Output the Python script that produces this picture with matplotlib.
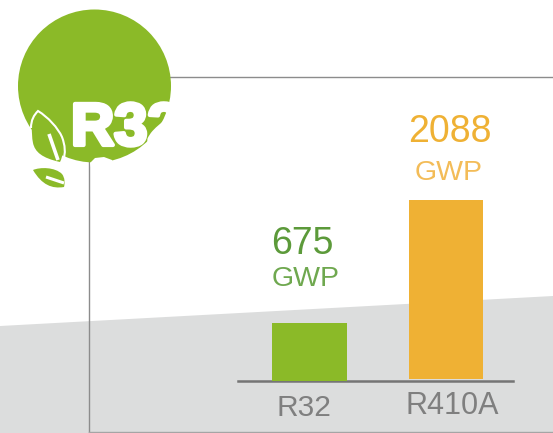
import matplotlib
matplotlib.use("Agg")
import matplotlib.pyplot as plt
from matplotlib.patches import Circle, PathPatch, Polygon
from matplotlib.path import Path
import matplotlib.patheffects as pe

plt.rcParams["font.family"] = ["Liberation Sans", "DejaVu Sans"]

W, H = 553, 433
GREEN = "#8BBA28"
ORANGE = "#EFB134"
GREY_TXT = "#7F7F7F"

categories = ["R32", "R410A"]
gwp_values = [675, 2088]
bar_colors = [GREEN, ORANGE]
value_colors = ["#5C9A3A", ORANGE]
unit_colors = ["#6FA84F", "#F3BC58"]
unit_label = "GWP"
badge_label = "R32"


def curve(points):
    # first point is a moveto, the rest go in cubic bezier triples
    codes = [Path.MOVETO] + [Path.CURVE4] * (len(points) - 1)
    return Path(points, codes)


fig = plt.figure(figsize=(W / 100, H / 100), dpi=100)

# backdrop and badge, in pixel coordinates
bg = fig.add_axes([0, 0, 1, 1])
bg.set_xlim(0, W)
bg.set_ylim(H, 0)
bg.axis("off")

bg.add_patch(Polygon([(0, 326), (W, 296), (W, H), (0, H)], fc="#DCDDDD", ec="none", zorder=1))
bg.plot([89, 89, W], [433, 77, 77], color="#8C8C8C", lw=1.0, zorder=2, solid_joinstyle="miter")
bg.plot([89, W], [431.5, 431.5], color="#A5A5A5", lw=1.0, zorder=2)

bg.add_patch(Circle((94.5, 86), 76.5, fc=GREEN, ec="none", zorder=3))
bg.text(71, 145, badge_label, color="white", fontsize=43, fontweight="bold", va="baseline", ha="left",
        zorder=4, path_effects=[pe.withStroke(linewidth=3.0, foreground="white")])
bg.add_patch(Polygon([(92, 172), (90, 163), (95, 158), (104, 157), (112, 160), (114, 172), (100, 180)],
                     fc="white", ec="none", zorder=4))

# large leaf sitting on the circle edge, white rim on the upper side only
leaf = curve([(38, 111), (31, 120), (31, 132), (33, 143),
              (35, 152), (42, 158), (60, 162),
              (66, 150), (62, 135), (58, 128),
              (52, 122), (45, 115), (38, 111)])
bg.add_patch(PathPatch(leaf, fc=GREEN, ec="none", zorder=5))
rim = curve([(31, 128), (31, 120), (34, 115), (38, 111),
             (48, 117), (58, 128), (62, 137),
             (65, 145), (66, 153), (63, 161)])
bg.add_patch(PathPatch(rim, fc="none", ec="white", lw=1.5, zorder=6))
bg.plot([49, 58], [134, 160], color="white", lw=2.6, zorder=6, solid_capstyle="butt")

# small leaf under the circle
small = curve([(33, 170), (40, 167), (55, 167), (62, 174),
               (65, 178), (65, 183), (64, 187),
               (52, 189), (42, 185), (33, 170)])
bg.add_patch(PathPatch(small, fc=GREEN, ec="none", zorder=5))
bg.plot([46, 64], [177, 183], color="white", lw=2.2, zorder=6, solid_capstyle="butt")

# bar chart, baseline at y=381 px
PX_PER_GWP = 0.0855
ax_top = 100
ax_left, ax_right = 238, 513
x_left = (ax_left - 309.5) / 136.5
x_right = (ax_right - 309.5) / 136.5
ax = fig.add_axes([ax_left / W, (H - 381) / H, (ax_right - ax_left) / W, (381 - ax_top) / H])
ax.patch.set_alpha(0)
ax.set_xlim(x_left, x_right)
ax.set_ylim(0, (381 - ax_top) / PX_PER_GWP)
lift = [0, 2 / PX_PER_GWP]
ax.bar(range(len(categories)), gwp_values, width=0.546, bottom=lift, color=bar_colors, zorder=3)

for side in ["top", "left", "right"]:
    ax.spines[side].set_visible(False)
ax.spines["bottom"].set_color("#757575")
ax.spines["bottom"].set_linewidth(1.8)
ax.spines["bottom"].set_zorder(2)
ax.set_yticks([])
ax.set_xticks([])

# offsets in points from the bar top / baseline
value_dx = [-5, 3]
value_dy = [50, 42]
unit_dy = [27, 15]
unit_dx = [-2.5, 2]
label_dy = [-25.5, -23.5]
label_dx = [-4, 4.5]
label_size = [21.5, 22]

for i, name in enumerate(categories):
    top = gwp_values[i] + lift[i]
    ax.annotate(str(gwp_values[i]), (i, top), xytext=(value_dx[i], value_dy[i]), textcoords="offset points",
                ha="center", va="baseline", fontsize=27, color=value_colors[i], clip_on=False)
    ax.annotate(unit_label, (i, top), xytext=(unit_dx[i], unit_dy[i]), textcoords="offset points",
                ha="center", va="baseline", fontsize=20.5, color=unit_colors[i], clip_on=False)
    ax.annotate(name, (i, 0), xytext=(label_dx[i], label_dy[i]), textcoords="offset points",
                ha="center", va="baseline", fontsize=label_size[i], color=GREY_TXT, clip_on=False)

fig.savefig("out.png", dpi=100)
